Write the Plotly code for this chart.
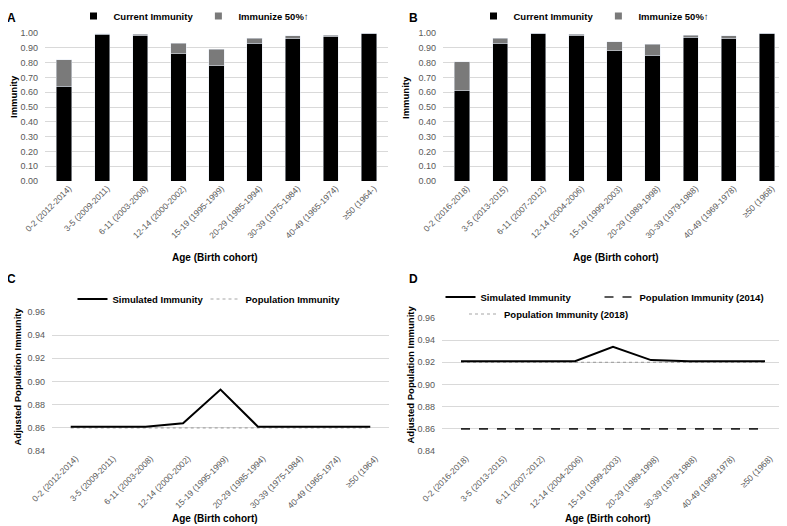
import plotly.graph_objects as go

# ---------------- data ----------------
cohorts_a = ["0-2 (2012-2014)", "3-5 (2009-2011)", "6-11 (2003-2008)", "12-14 (2000-2002)",
             "15-19 (1995-1999)", "20-29 (1985-1994)", "30-39 (1975-1984)", "40-49 (1965-1974)",
             "≥50 (1964-)"]
cohorts_b = ["0-2 (2016-2018)", "3-5 (2013-2015)", "6-11 (2007-2012)", "12-14 (2004-2006)",
             "15-19 (1999-2003)", "20-29 (1989-1998)", "30-39 (1979-1988)", "40-49 (1969-1978)",
             "≥50 (1968)"]
cohorts_c = ["0-2 (2012-2014)", "3-5 (2009-2011)", "6-11 (2003-2008)", "12-14 (2000-2002)",
             "15-19 (1995-1999)", "20-29 (1985-1994)", "30-39 (1975-1984)", "40-49 (1965-1974)",
             "≥50 (1964)"]
cohorts_d = cohorts_b

current_a = [0.64, 0.99, 0.98, 0.86, 0.78, 0.93, 0.96, 0.975, 1.00]
added_a = [0.18, 0.005, 0.01, 0.07, 0.11, 0.035, 0.02, 0.01, 0.0]
current_b = [0.61, 0.93, 1.00, 0.98, 0.88, 0.85, 0.97, 0.96, 1.00]
added_b = [0.195, 0.035, 0.0, 0.01, 0.06, 0.075, 0.015, 0.02, 0.0]

simulated_c = [0.861, 0.861, 0.861, 0.864, 0.893, 0.861, 0.861, 0.861, 0.861]
population_c = [0.860, 0.860, 0.860, 0.860, 0.860, 0.860, 0.860, 0.860, 0.860]
simulated_d = [0.921, 0.921, 0.921, 0.921, 0.934, 0.922, 0.921, 0.921, 0.921]
population_d_2014 = [0.860, 0.860, 0.860, 0.860, 0.860, 0.860, 0.860, 0.860, 0.860]
population_d_2018 = [0.920, 0.920, 0.920, 0.920, 0.920, 0.920, 0.920, 0.920, 0.920]

# ---------------- styling ----------------
# the page body has an 8px default margin, so the figure is sized to fill the rest of the window
OX, OY = 8, 8
W, H = 787 - OX, 526 - OY
FONT = "Liberation Sans, Arial, sans-serif"
TICK = "#595959"
GRID = "#d9d9d9"
BLACK = "#000000"
GRAY = "#7a7a7a"
LIGHT = "#a6a6a6"


def px(x):
    return (x - OX) / W


def py(y):
    return 1 - (y - OY) / H


fig = go.Figure()

# Panel A bars
fig.add_bar(x=cohorts_a, y=current_a, marker_color=BLACK, xaxis="x", yaxis="y",
            showlegend=False, name="Current Immunity")
fig.add_bar(x=cohorts_a, y=added_a, marker_color=GRAY, xaxis="x", yaxis="y",
            showlegend=False, name="Immunize 50%↑")
fig.add_scatter(x=[None], y=[None], mode="markers", marker=dict(symbol="square", size=7, color=BLACK),
                name="<b>Current Immunity</b>", legend="legend", legendrank=1, xaxis="x", yaxis="y")
fig.add_scatter(x=[None], y=[None], mode="markers", marker=dict(symbol="square", size=7, color=GRAY),
                name="<b>Immunize 50%↑</b>", legend="legend", legendrank=2, xaxis="x", yaxis="y")

# Panel B bars
fig.add_bar(x=cohorts_b, y=current_b, marker_color=BLACK, xaxis="x2", yaxis="y2",
            showlegend=False, name="Current Immunity")
fig.add_bar(x=cohorts_b, y=added_b, marker_color=GRAY, xaxis="x2", yaxis="y2",
            showlegend=False, name="Immunize 50%↑")
fig.add_scatter(x=[None], y=[None], mode="markers", marker=dict(symbol="square", size=7, color=BLACK),
                name="<b>Current Immunity</b>", legend="legend2", legendrank=1, xaxis="x2", yaxis="y2")
fig.add_scatter(x=[None], y=[None], mode="markers", marker=dict(symbol="square", size=7, color=GRAY),
                name="<b>Immunize 50%↑</b>", legend="legend2", legendrank=2, xaxis="x2", yaxis="y2")

# Panel C lines
fig.add_scatter(x=cohorts_c, y=population_c, mode="lines", line=dict(color=LIGHT, width=1.2, dash="dot"),
                name="<b>Population Immunity</b>", legend="legend3", legendrank=2, xaxis="x3", yaxis="y3")
fig.add_scatter(x=cohorts_c, y=simulated_c, mode="lines", line=dict(color=BLACK, width=2),
                name="<b>Simulated Immunity</b>", legend="legend3", legendrank=1, legendwidth=88,
                xaxis="x3", yaxis="y3")

# Panel D lines
fig.add_scatter(x=cohorts_d, y=population_d_2018, mode="lines", line=dict(color=LIGHT, width=1.2, dash="dot"),
                name="<b>Population Immunity (2018)</b>", legend="legend5", xaxis="x4", yaxis="y4")
fig.add_scatter(x=cohorts_d, y=population_d_2014, mode="lines", line=dict(color="#262626", width=1.6, dash="dash"),
                name="<b>Population Immunity (2014)</b>", legend="legend4", legendrank=2, xaxis="x4", yaxis="y4")
fig.add_scatter(x=cohorts_d, y=simulated_d, mode="lines", line=dict(color=BLACK, width=2),
                name="<b>Simulated Immunity</b>", legend="legend4", legendrank=1, legendwidth=114,
                xaxis="x4", yaxis="y4")

# ---------------- axes ----------------
xcommon = dict(type="category", tickangle=-45, tickfont=dict(size=8.5, color=TICK, family=FONT),
               showgrid=False, showline=False, zeroline=False, ticks="", fixedrange=True,
               automargin=False, ticklabelshift=5, range=[-0.5, 8.5])
ycommon = dict(tickfont=dict(size=9, color=TICK, family=FONT), showgrid=True, gridcolor=GRID,
               gridwidth=1, zeroline=False, showline=False, ticks="", tickformat=".2f",
               ticklabelstandoff=6, automargin=False)

top_y = [py(181), py(33)]
fig.update_layout(
    xaxis=dict(domain=[px(45), px(388)], anchor="y", **xcommon),
    yaxis=dict(domain=top_y, anchor="x", range=[0, 1], dtick=0.1, **ycommon),
    xaxis2=dict(domain=[px(443), px(786)], anchor="y2", **xcommon),
    yaxis2=dict(domain=top_y, anchor="x2", range=[0, 1], dtick=0.1, **ycommon),
    xaxis3=dict(domain=[px(52), px(389)], anchor="y3", **xcommon),
    yaxis3=dict(domain=[py(451), py(312)], anchor="x3", range=[0.84, 0.96], dtick=0.02, **ycommon),
    xaxis4=dict(domain=[px(442), px(784)], anchor="y4", **xcommon),
    yaxis4=dict(domain=[py(451), py(318)], anchor="x4", range=[0.84, 0.96], dtick=0.02, **ycommon),
)

legcommon = dict(orientation="h", font=dict(size=9.5, color="#000000", family=FONT),
                 bgcolor="rgba(0,0,0,0)", yanchor="middle", xanchor="center",
                 itemwidth=30, tracegroupgap=0, traceorder="normal")
fig.update_layout(
    legend=dict(x=px(194), y=py(16), **legcommon),
    legend2=dict(x=px(594), y=py(16), **legcommon),
    legend3=dict(x=px(209), y=py(299), **legcommon),
    legend4=dict(x=px(605), y=py(297), **legcommon),
    legend5=dict(x=px(549), y=py(314), **legcommon),
)

# ---------------- annotations ----------------
ann = []
for txt, x, y in [("A", 12, 17.5), ("B", 413, 17.5), ("C", 12, 279), ("D", 413, 279)]:
    ann.append(dict(text=f"<b>{txt}</b>", x=px(x), y=py(y), xref="paper", yref="paper",
                    xanchor="center", yanchor="middle",
                    showarrow=False, font=dict(size=12, family=FONT, color="#000")))
for x, y in [(215, 258), (616, 258), (215, 518), (608, 518)]:
    ann.append(dict(text="<b>Age (Birth cohort)</b>", x=px(x), y=py(y), xref="paper", yref="paper",
                    xanchor="center", yanchor="middle",
                    showarrow=False, font=dict(size=10, family=FONT, color="#000")))
for txt, x, y in [("Immunity", 13, 97), ("Immunity", 406, 98),
                  ("Adjusted Population Immunity", 16.5, 377), ("Adjusted Population Immunity", 409.5, 375)]:
    ann.append(dict(text=f"<b>{txt}</b>", x=px(x), y=py(y), xref="paper", yref="paper",
                    xanchor="center", yanchor="middle",
                    showarrow=False, textangle=-90, font=dict(size=9.5, family=FONT, color="#000")))

fig.update_layout(
    width=W, height=H, margin=dict(l=0, r=0, t=0, b=0, autoexpand=False),
    paper_bgcolor="white", plot_bgcolor="white",
    barmode="stack", bargap=0.6,
    font=dict(family=FONT),
    annotations=ann,
)

fig.write_html("out.html")
